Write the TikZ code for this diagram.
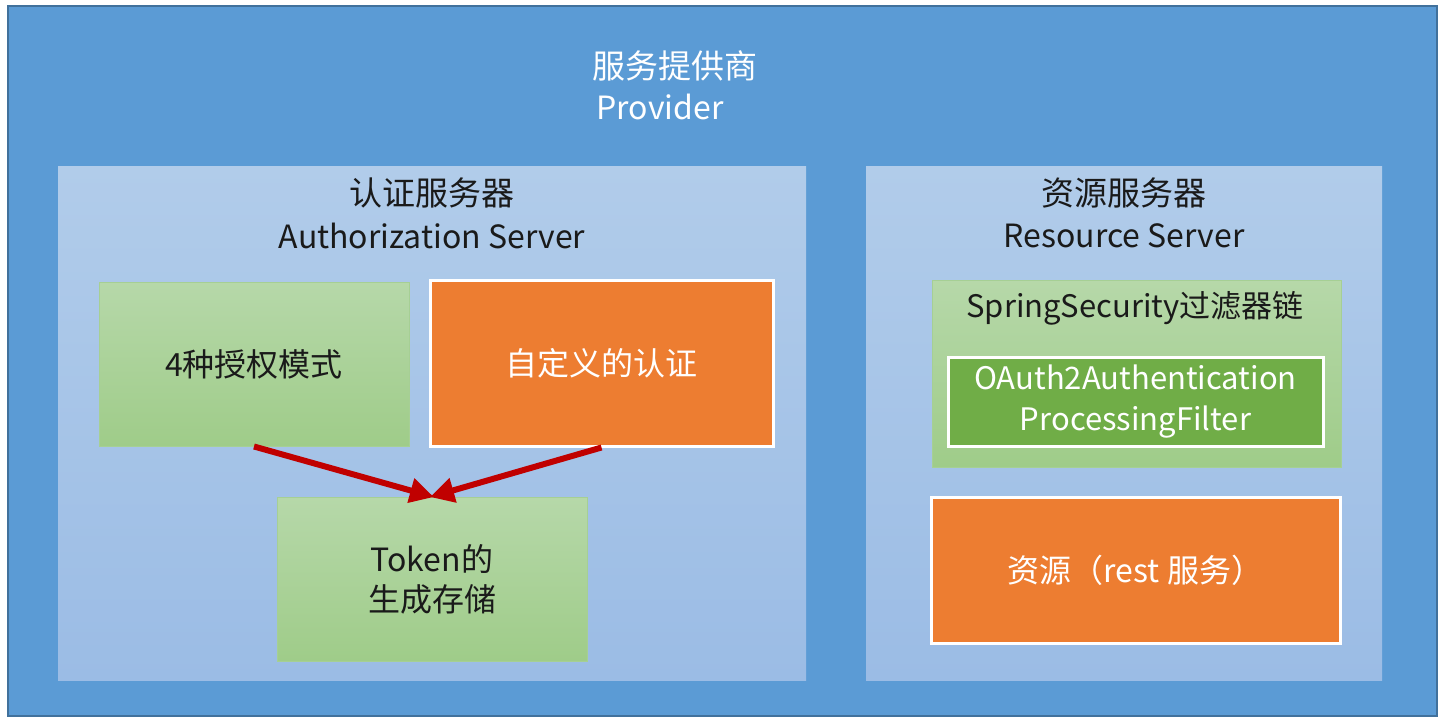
\documentclass[tikz,border=0pt]{standalone}
\usepackage{fontspec}
\setmainfont{Noto Sans CJK SC}
\usetikzlibrary{arrows.meta}
\definecolor{outerfill}{HTML}{5B9BD5}
\definecolor{outerline}{HTML}{41719C}
\definecolor{paneltop}{HTML}{B1CCEA}
\definecolor{panelbot}{HTML}{9BBCE5}
\definecolor{greentop}{HTML}{B6D8A9}
\definecolor{greenbot}{HTML}{9FCC89}
\definecolor{greenline}{HTML}{A6CF94}
\definecolor{darkgreen}{HTML}{70AD47}
\definecolor{orangefill}{HTML}{ED7D31}
\definecolor{arrowred}{HTML}{C00000}
\definecolor{textdark}{HTML}{1A1A1A}
\tikzset{
  panel/.style={rectangle, top color=paneltop, bottom color=panelbot, draw=none, inner sep=0},
  greenbox/.style={rectangle, top color=greentop, bottom color=greenbot, draw=greenline, line width=1pt, inner sep=0, text=textdark, font=\fontsize{32}{40}\selectfont, align=center},
  orangebox/.style={rectangle, fill=orangefill, draw=white, line width=3pt, inner sep=0, text=white, font=\fontsize{32}{40}\selectfont, align=center},
  filterbox/.style={rectangle, fill=darkgreen, draw=white, line width=3pt, inner sep=0, text=white, font=\fontsize{31}{41}\selectfont, align=center},
  title/.style={font=\fontsize{33}{40}\selectfont, inner sep=0},
  subtitle/.style={font=\fontsize{32}{40}\selectfont, inner sep=0},
  redarrow/.style={draw=arrowred, line width=6pt, -{Triangle[length=24pt,width=24pt]}, shorten >=-2pt}
}
\begin{document}
\begin{tikzpicture}[x=1pt,y=-1pt]
\useasboundingbox[fill=white] (0,0) rectangle (1446,722);
\node[draw=outerline, fill=outerfill, line width=2pt, minimum width=1429pt, minimum height=710pt, inner sep=0] (outer) at (722.5,361) {};
\node[title, text=white] (t1) at (675,66) {服务提供商};
\node[subtitle, text=white] (t2) at (660,107) {Provider};
\node[panel, minimum width=748pt, minimum height=513pt] (auth) at (432,423.5) {};
\node[panel, minimum width=516pt, minimum height=513pt] (res) at (1124,423.5) {};
\node[title, text=textdark] (a1) at (432,193) {认证服务器};
\node[subtitle, text=textdark] (a2) at (432,236) {Authorization Server};
\node[title, text=textdark] (r1) at (1124,193) {资源服务器};
\node[subtitle, text=textdark] (r2) at (1124,236) {Resource Server};
\node[greenbox, minimum width=310pt, minimum height=164pt] (modes) at (254,364) {4种授权模式};
\node[orangebox, minimum width=343pt, minimum height=166pt] (custom) at (601.5,363) {自定义的认证};
\node[greenbox, minimum width=310pt, minimum height=164pt] (token) at (432,579) {Token的\\生成存储};
\node[greenbox, minimum width=409pt, minimum height=187pt] (chain) at (1136.5,373.5) {};
\node[font=\fontsize{31}{40}\selectfont, text=textdark, inner sep=0] (chaint) at (1135,308) {SpringSecurity过滤器链};
\node[filterbox, minimum width=375pt, minimum height=89pt] (filter) at (1135.5,401.5) {OAuth2Authentication\\ProcessingFilter};
\node[orangebox, minimum width=409pt, minimum height=146pt] (resource) at (1135.5,570) {资源（rest 服务）};
\draw[redarrow] (modes.south) -- (token.north);
\draw[redarrow] (custom.south) -- (token.north);
\end{tikzpicture}
\end{document}
